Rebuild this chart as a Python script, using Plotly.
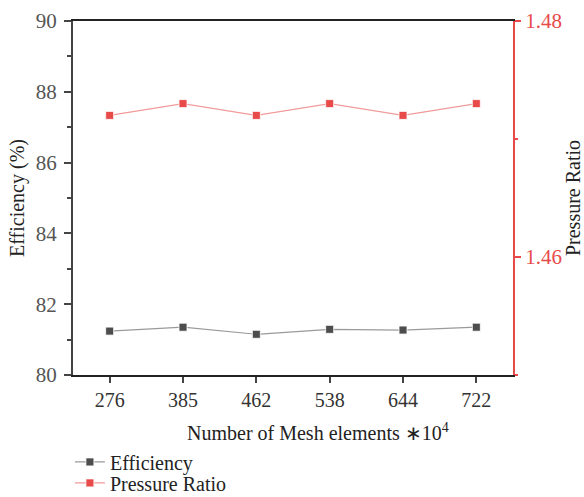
import plotly.graph_objects as go

categories = ["276", "385", "462", "538", "644", "722"]
efficiency = [81.24, 81.35, 81.15, 81.29, 81.27, 81.35]
pressure_ratio = [1.4720, 1.4730, 1.4720, 1.4730, 1.4720, 1.4730]

FONT = "Liberation Serif, Times New Roman, serif"
RED = "#e84a4a"
GREY = "#4d4d4d"

fig = go.Figure()
fig.add_trace(go.Scatter(
    x=categories, y=efficiency, name="Efficiency", mode="lines+markers",
    line=dict(color="#9a9a9a", width=1.2),
    marker=dict(symbol="square", size=8, color=GREY, line=dict(color="white", width=0.8)),
    legend="legend",
))
fig.add_trace(go.Scatter(
    x=categories, y=pressure_ratio, name="Pressure Ratio", mode="lines+markers",
    yaxis="y2",
    line=dict(color="#f29a9a", width=1.2),
    marker=dict(symbol="square", size=8, color=RED, line=dict(color="white", width=0.8)),
    legend="legend2",
))

leg_common = dict(xanchor="left", yanchor="middle",
                  font=dict(family=FONT, size=20, color="#222"),
                  itemwidth=30, bgcolor="rgba(0,0,0,0)")

fig.update_layout(
    width=584, height=497,
    margin=dict(l=73, r=71, t=21, b=122, autoexpand=False),
    paper_bgcolor="white", plot_bgcolor="white",
    font=dict(family=FONT, size=20, color="#222"),
    showlegend=True,
    legend=dict(x=-0.007, y=-0.2455, **leg_common),
    legend2=dict(x=-0.007, y=-0.3048, **leg_common),
    xaxis=dict(
        type="category", range=[-0.5, 5.5],
        showgrid=False, zeroline=False,
        showline=True, linecolor="#222", linewidth=2, mirror=True,
        ticks="outside", ticklen=6, tickwidth=1.5, tickcolor="#444",
        minor=dict(ticks="outside", ticklen=3, tickcolor="#444", showgrid=False),
        tickfont=dict(family=FONT, size=20, color="#333"),
    ),
    yaxis=dict(
        range=[80, 90], dtick=2,
        showgrid=False, zeroline=False,
        showline=True, linecolor="#444", linewidth=2,
        ticks="outside", ticklen=7, tickwidth=1.5, tickcolor="#444",
        minor=dict(ticks="outside", ticklen=4, dtick=1, tickcolor="#444", showgrid=False),
        tickfont=dict(family=FONT, size=21, color="#555"),
        ticklabelstandoff=3,
        title=dict(text="Efficiency (%)", font=dict(family=FONT, size=20, color="#222"), standoff=6),
    ),
    yaxis2=dict(
        overlaying="y", side="right",
        range=[1.45, 1.48], tickvals=[1.46, 1.48], ticktext=["1.46", "1.48"],
        showgrid=False, zeroline=False,
        showline=True, linecolor=RED, linewidth=2,
        ticks="outside", ticklen=6, tickwidth=1.5, tickcolor=RED,
        minor=dict(ticks="outside", ticklen=3, tickvals=[1.45, 1.47], tickcolor=RED, showgrid=False),
        tickfont=dict(family=FONT, size=21, color=RED),
        title=dict(text="Pressure Ratio", font=dict(family=FONT, size=20, color="#222"), standoff=11),
    ),
    annotations=[dict(
        text="Number of Mesh elements ∗10<sup>4</sup>",
        xref="paper", yref="paper", x=0.557, y=-0.161,
        xanchor="center", yanchor="middle", showarrow=False,
        font=dict(family=FONT, size=20, color="#222"),
    )],
)

fig.write_html("out.html")
